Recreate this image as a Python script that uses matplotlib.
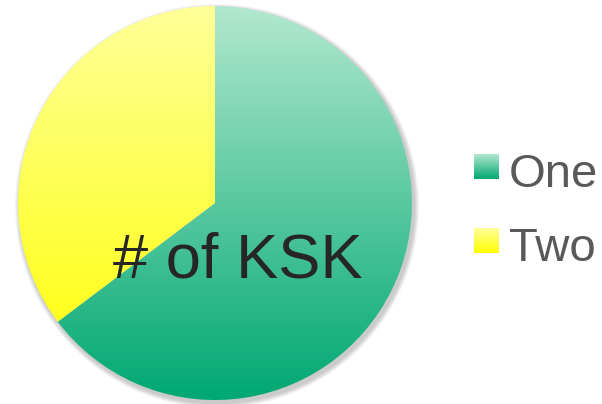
import numpy as np
import matplotlib.pyplot as plt
from matplotlib.colors import LinearSegmentedColormap
from matplotlib.patches import Circle

# KSK count split
labels = ["One", "Two"]
values = [11, 6]
title = "# of KSK"

# top -> bottom gradient colours for each slice
grad_colors = [("#b2e8cf", "#00a872"), ("#ffff99", "#ffff00")]

W, H = 602, 404
fig = plt.figure(figsize=(W / 100, H / 100), dpi=100)
ax = fig.add_axes([0, 0, 1, 1])

cx, cy, r = 215, 201, 197

# soft shadow under the pie
for i in range(6):
    ax.add_patch(Circle((cx + 2, cy - 3), r + 1 + i * 0.8, color="#000000",
                        alpha=0.035, lw=0, zorder=0))

wedges, _ = ax.pie(values, center=(cx, cy), radius=r, startangle=90,
                   counterclock=False, frame=True)
ax.set_aspect("auto")
ax.axis("off")

grad = np.linspace(0, 1, 256).reshape(-1, 1)
for w, (top, bot) in zip(wedges, grad_colors):
    w.set_facecolor("none")
    w.set_edgecolor("none")
    cmap = LinearSegmentedColormap.from_list("g", [top, bot])
    im = ax.imshow(grad, cmap=cmap, aspect="auto",
                   extent=(cx - r, cx + r, cy - r, cy + r),
                   origin="upper", zorder=1, interpolation="bicubic")
    im.set_clip_path(w)

ax.text(237.5, 127, title, fontsize=45.5, color="#262626",
        family="Liberation Sans", ha="center", va="baseline", zorder=3)

# legend with gradient swatches
for i, (lab, (top, bot)) in enumerate(zip(labels, grad_colors)):
    y0 = 225 - i * 74
    cmap = LinearSegmentedColormap.from_list("g", [top, bot])
    ax.imshow(grad, cmap=cmap, aspect="auto", extent=(474, 499, y0, y0 + 25),
              origin="upper", zorder=2)
    ax.text(509, y0 - 8, lab, fontsize=34, color="#595959",
            family="Liberation Sans", ha="left", va="baseline")

ax.set_xlim(0, W)
ax.set_ylim(0, H)
fig.savefig("out.png", dpi=100)
